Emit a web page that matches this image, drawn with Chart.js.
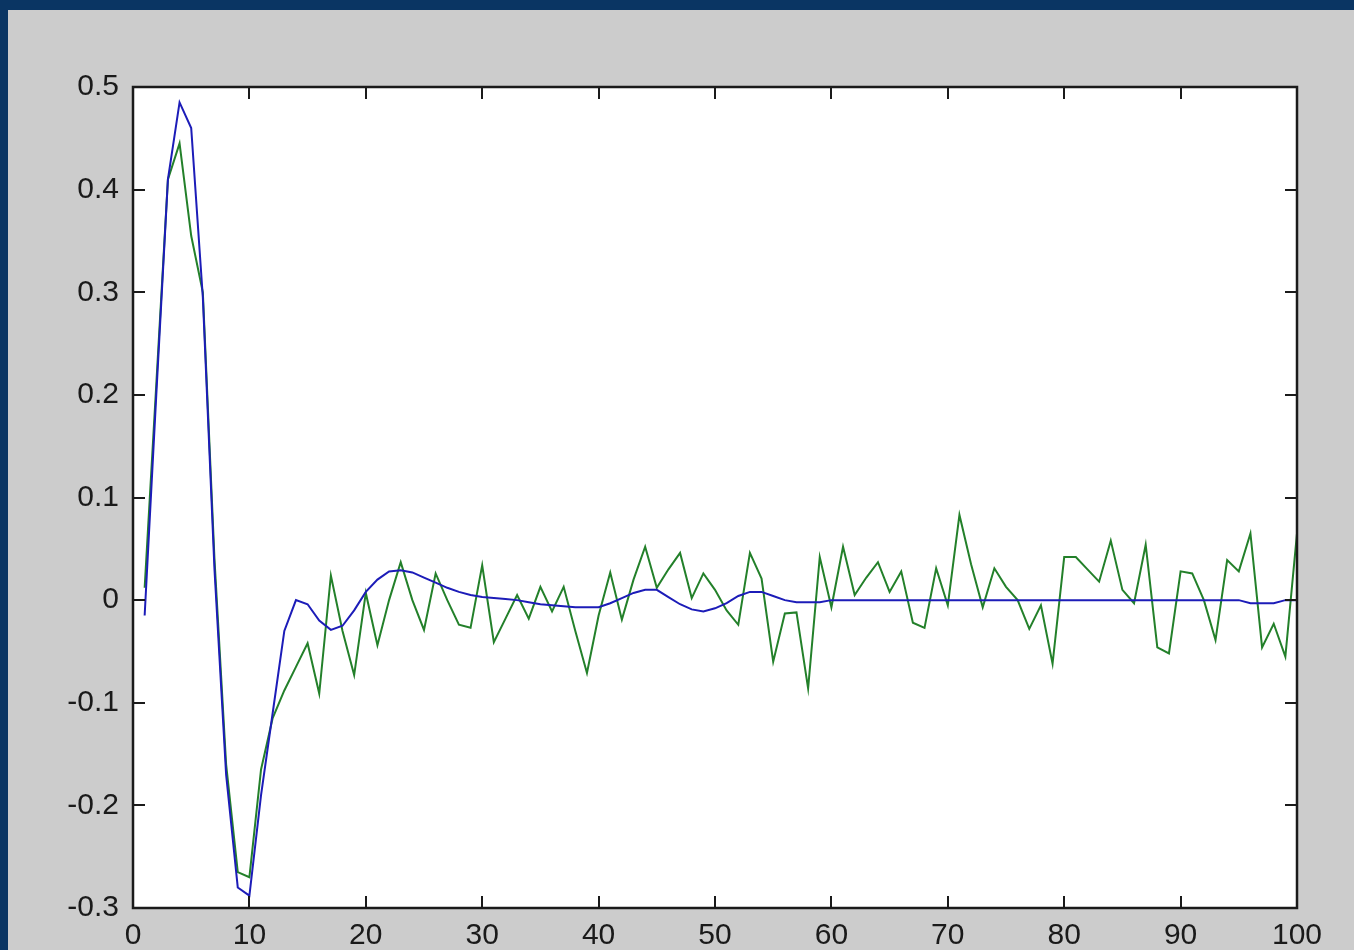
<!DOCTYPE html>
<html>
<head>
<meta charset="utf-8">
<script src="https://cdn.jsdelivr.net/npm/chart.js@4/dist/chart.umd.min.js"></script>
<style>
  html, body { margin: 0; padding: 0; background: #0a3563; overflow: hidden; }
  #wrap { position: absolute; left: 0; top: 0; width: 1354px; height: 950px; }
  canvas { display: block; }
</style>
</head>
<body>
<div id="wrap"><canvas id="c" width="1354" height="950"></canvas></div>
<script>
const sampleIndex = [1,2,3,4,5,6,7,8,9,10,11,12,13,14,15,16,17,18,19,20,
  21,22,23,24,25,26,27,28,29,30,31,32,33,34,35,36,37,38,39,40,
  41,42,43,44,45,46,47,48,49,50,51,52,53,54,55,56,57,58,59,60,
  61,62,63,64,65,66,67,68,69,70,71,72,73,74,75,76,77,78,79,80,
  81,82,83,84,85,86,87,88,89,90,91,92,93,94,95,96,97,98,99,100];

const blueSeries = [-0.015,0.20,0.41,0.485,0.46,0.295,0.03,-0.17,-0.28,-0.288,
  -0.19,-0.11,-0.03,0.0,-0.004,-0.02,-0.029,-0.025,-0.01,0.008,
  0.02,0.028,0.029,0.027,0.022,0.017,0.012,0.008,0.005,0.003,
  0.002,0.001,0.0,-0.002,-0.004,-0.005,-0.006,-0.007,-0.007,-0.007,
  -0.003,0.002,0.007,0.01,0.01,0.003,-0.004,-0.009,-0.011,-0.008,
  -0.003,0.004,0.008,0.008,0.004,0.0,-0.002,-0.002,-0.002,0.0,
  0,0,0,0,0,0,0,0,0,0,
  0,0,0,0,0,0,0,0,0,0,
  0,0,0,0,0,0,0,0,0,0,
  0,0,0,0,0,-0.003,-0.003,-0.003,0.0,0.0];

const greenSeries = [0.012,0.21,0.41,0.445,0.355,0.30,0.04,-0.16,-0.265,-0.27,
  -0.165,-0.115,-0.088,-0.065,-0.042,-0.091,0.024,-0.03,-0.073,0.007,
  -0.044,0.0,0.037,0.0,-0.029,0.026,0.0,-0.024,-0.027,0.034,
  -0.041,-0.018,0.005,-0.018,0.013,-0.011,0.013,-0.03,-0.071,-0.015,
  0.027,-0.019,0.02,0.052,0.012,0.03,0.046,0.002,0.026,0.01,
  -0.01,-0.024,0.046,0.021,-0.06,-0.013,-0.012,-0.086,0.042,-0.007,
  0.052,0.005,0.022,0.037,0.008,0.028,-0.022,-0.027,0.031,-0.005,
  0.083,0.035,-0.007,0.031,0.013,0.0,-0.028,-0.005,-0.062,0.042,
  0.042,0.03,0.018,0.058,0.01,-0.003,0.054,-0.046,-0.052,0.028,
  0.026,0.0,-0.039,0.039,0.028,0.065,-0.046,-0.023,-0.055,0.065];

const xTickValues = [0,10,20,30,40,50,60,70,80,90,100];
const xTickLabels = ['0','10','20','30','40','50','60','70','80','90','100'];
const yTickValues = [-0.3,-0.2,-0.1,0,0.1,0.2,0.3,0.4,0.5];
const yTickLabels = ['-0.3','-0.2','-0.1','0','0.1','0.2','0.3','0.4','0.5'];

const bluePoints = sampleIndex.map((x, i) => ({x: x, y: blueSeries[i]}));
const greenPoints = sampleIndex.map((x, i) => ({x: x, y: greenSeries[i]}));

const framePlugin = {
  id: 'frame',
  beforeDraw(chart) {
    const ctx = chart.ctx;
    const a = chart.chartArea;
    ctx.save();
    ctx.fillStyle = '#0a3563';
    ctx.fillRect(0, 0, chart.width, chart.height);
    ctx.fillStyle = '#cccccc';
    ctx.fillRect(8, 10, chart.width - 8, chart.height - 10);
    ctx.fillStyle = '#ffffff';
    ctx.fillRect(a.left, a.top, a.right - a.left, a.bottom - a.top);
    ctx.restore();
  },
  afterDraw(chart) {
    const ctx = chart.ctx;
    const a = chart.chartArea;
    const xs = chart.scales.x, ys = chart.scales.y;
    const tl = 12;
    ctx.save();
    ctx.strokeStyle = '#1a1a1a';
    ctx.lineWidth = 2;
    ctx.beginPath();
    xs.ticks.forEach(t => {
      const px = Math.round(xs.getPixelForValue(t.value));
      ctx.moveTo(px, a.bottom); ctx.lineTo(px, a.bottom - tl);
      ctx.moveTo(px, a.top); ctx.lineTo(px, a.top + tl);
    });
    ys.ticks.forEach(t => {
      const py = Math.round(ys.getPixelForValue(t.value));
      ctx.moveTo(a.left, py); ctx.lineTo(a.left + tl, py);
      ctx.moveTo(a.right, py); ctx.lineTo(a.right - tl, py);
    });
    ctx.stroke();
    ctx.lineWidth = 2.5;
    ctx.strokeRect(a.left, a.top, a.right - a.left, a.bottom - a.top);
    ctx.restore();
  }
};

new Chart(document.getElementById('c'), {
  type: 'line',
  data: {
    datasets: [
      { label: 'blue', data: bluePoints, borderColor: '#1c1cb8', borderWidth: 2, pointRadius: 0, tension: 0, fill: false },
      { label: 'green', data: greenPoints, borderColor: '#23802a', borderWidth: 2, pointRadius: 0, tension: 0, fill: false }
    ]
  },
  options: {
    responsive: false,
    animation: false,
    devicePixelRatio: 1,
    layout: { padding: { left: 0, top: 87, right: 57, bottom: 0 } },
    plugins: { legend: { display: false }, tooltip: { enabled: false } },
    scales: {
      x: {
        type: 'linear', min: 0, max: 100,
        afterBuildTicks: s => { s.ticks = xTickValues.map(v => ({value: v})); },
        afterFit: s => { s.height = 42; },
        grid: { display: false, drawTicks: false },
        border: { display: false },
        ticks: {
          padding: 10, color: '#1a1a1a', maxRotation: 0, autoSkip: false,
          font: { family: 'Liberation Sans, Arial, sans-serif', size: 30 },
          callback: (v, i) => xTickLabels[i]
        }
      },
      y: {
        type: 'linear', min: -0.3, max: 0.5,
        afterBuildTicks: s => { s.ticks = yTickValues.map(v => ({value: v})); },
        afterFit: s => { s.width = 133; },
        grid: { display: false, drawTicks: false },
        border: { display: false },
        ticks: {
          padding: 14, color: '#1a1a1a', autoSkip: false,
          font: { family: 'Liberation Sans, Arial, sans-serif', size: 30 },
          callback: (v, i) => yTickLabels[i]
        }
      }
    }
  },
  plugins: [framePlugin]
});
</script>
</body>
</html>
